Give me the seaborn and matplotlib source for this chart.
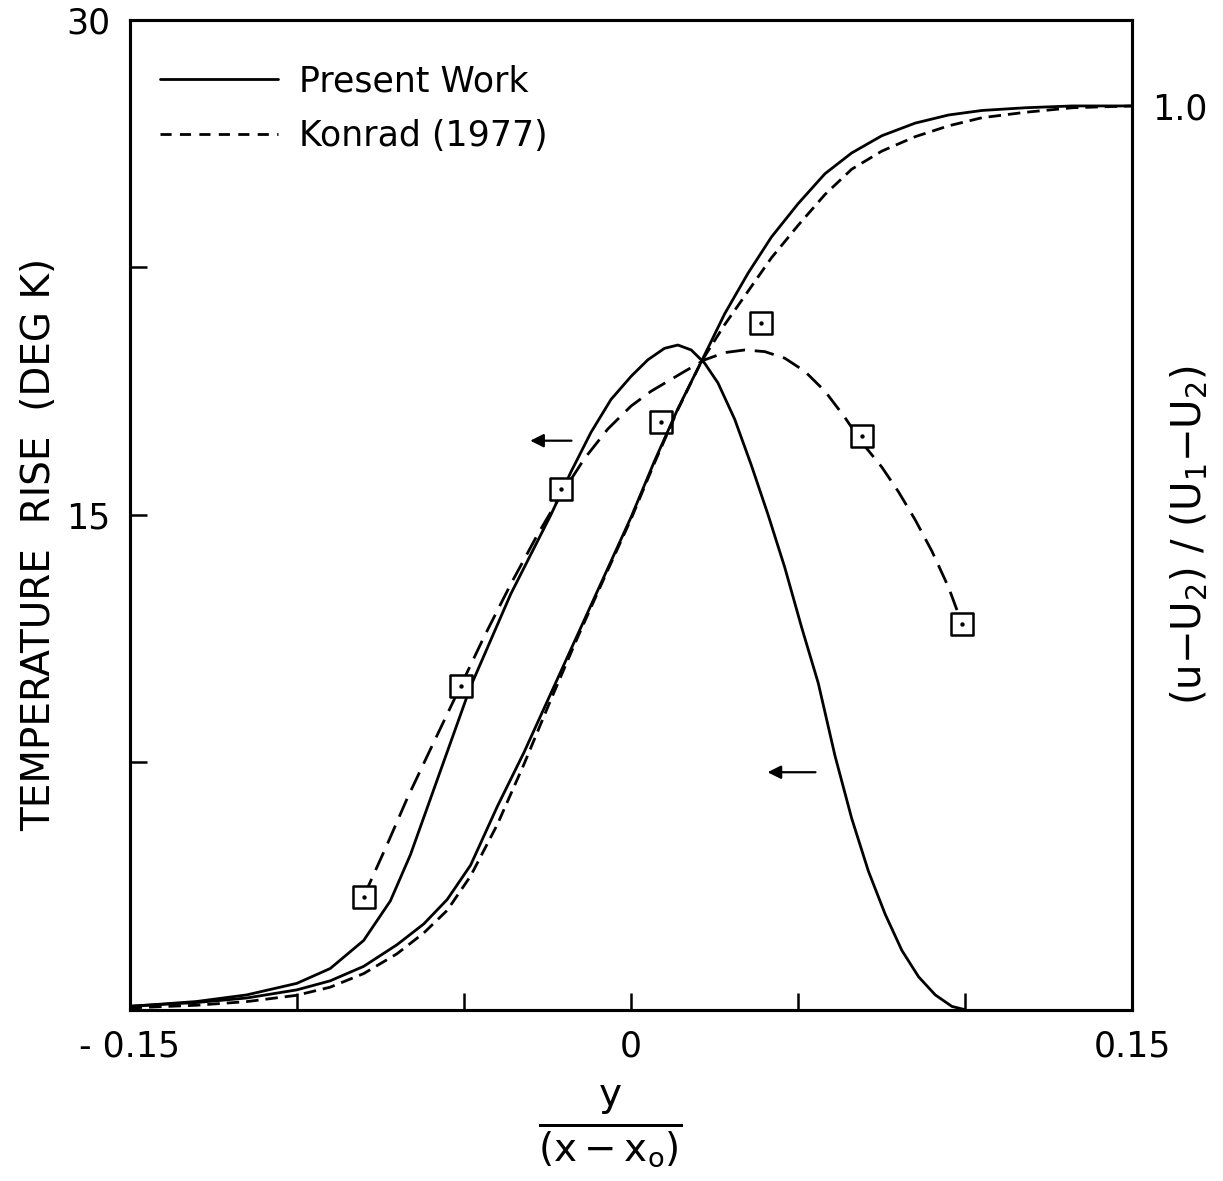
import matplotlib
matplotlib.use('Agg')
import matplotlib.pyplot as plt
from matplotlib.lines import Line2D
import pandas as pd
import seaborn as sns

# temperature rise (deg K), present work
x_temp_present = [-0.150, -0.130, -0.115, -0.100, -0.090, -0.080, -0.072, -0.066, -0.060, -0.054,
                  -0.048, -0.042, -0.036, -0.030, -0.024, -0.018, -0.012, -0.006, 0.000, 0.005,
                  0.010, 0.014, 0.018, 0.022, 0.026, 0.031, 0.036, 0.041, 0.046, 0.051,
                  0.056, 0.061, 0.066, 0.071, 0.076, 0.081, 0.086, 0.091, 0.096, 0.100]
temp_present = [0.10, 0.25, 0.45, 0.80, 1.25, 2.10, 3.30, 4.70, 6.40, 8.10,
                9.80, 11.20, 12.60, 13.80, 15.00, 16.30, 17.50, 18.50, 19.20, 19.70,
                20.05, 20.15, 20.00, 19.60, 19.00, 17.90, 16.50, 15.00, 13.40, 11.60,
                9.90, 7.70, 5.80, 4.20, 2.90, 1.80, 1.00, 0.45, 0.10, 0.00]

# temperature rise, Konrad (1977)
x_temp_konrad = [-0.080, -0.073, -0.067, -0.060, -0.051, -0.044, -0.036, -0.028, -0.021, -0.014,
                 -0.007, 0.000, 0.006, 0.011, 0.016, 0.022, 0.028, 0.034, 0.040, 0.046,
                 0.052, 0.058, 0.064, 0.069, 0.075, 0.080, 0.085, 0.090, 0.095, 0.099]
temp_konrad = [3.43, 5.00, 6.40, 7.90, 9.81, 11.30, 12.90, 14.40, 15.60, 16.70,
               17.60, 18.30, 18.75, 19.05, 19.35, 19.70, 19.92, 20.00, 19.95, 19.75,
               19.35, 18.75, 17.95, 17.20, 16.45, 15.70, 14.85, 13.90, 12.80, 11.70]

# velocity ratio (u-U2)/(U1-U2)
x_vel = [-0.150, -0.130, -0.115, -0.100, -0.090, -0.080, -0.070, -0.062, -0.055, -0.048,
         -0.040, -0.032, -0.024, -0.016, -0.008, 0.000, 0.007, 0.014, 0.021, 0.028,
         0.035, 0.042, 0.050, 0.058, 0.066, 0.075, 0.085, 0.095, 0.105, 0.118, 0.132, 0.150]
vel_present = [0.004, 0.008, 0.013, 0.022, 0.032, 0.048, 0.072, 0.095, 0.122, 0.160,
               0.225, 0.285, 0.350, 0.415, 0.480, 0.545, 0.607, 0.665, 0.717, 0.770,
               0.815, 0.855, 0.892, 0.925, 0.948, 0.967, 0.981, 0.990, 0.995, 0.998, 1.000, 1.000]
vel_konrad = [0.002, 0.005, 0.009, 0.016, 0.025, 0.040, 0.062, 0.085, 0.110, 0.148,
              0.205, 0.272, 0.343, 0.412, 0.478, 0.543, 0.605, 0.664, 0.717, 0.758,
              0.795, 0.832, 0.868, 0.902, 0.930, 0.950, 0.966, 0.978, 0.987, 0.993, 0.998, 1.000]

# measured temperature points (squares)
x_points = [-0.080, -0.051, -0.021, 0.009, 0.039, 0.069, 0.099]
temp_points = [3.43, 9.81, 15.79, 17.83, 20.83, 17.40, 11.69]

xticks = [-0.15, -0.10, -0.05, 0.0, 0.05, 0.10, 0.15]
xticklabels = ['- 0.15', '', '', '0', '', '', '0.15']
yticks = [0, 7.5, 15, 22.5, 30]
yticklabels = ['', '', '15', '', '30']

sns.set_style('ticks')
plt.rcParams['font.family'] = ['DejaVu Sans']
plt.rcParams['mathtext.fontset'] = 'dejavusans'
plt.rcParams['lines.scale_dashes'] = False
for key in ['text.color', 'axes.labelcolor', 'xtick.color', 'ytick.color', 'axes.edgecolor']:
    plt.rcParams[key] = 'black'

fig = plt.figure(figsize=(12.23, 11.81), dpi=100)
ax = fig.add_axes([0.106, 0.145, 0.820, 0.838])
ax2 = ax.twinx()

lw = 2.0
sns.lineplot(x=x_vel, y=vel_present, ax=ax2, color='black', lw=lw,
             sort=False, estimator=None, legend=False)
sns.lineplot(x=x_vel, y=vel_konrad, ax=ax2, color='black', lw=lw,
             sort=False, estimator=None, legend=False, linestyle=(0, (9, 5)))
sns.lineplot(x=x_temp_present, y=temp_present, ax=ax, color='black', lw=lw,
             sort=False, estimator=None, legend=False)
sns.lineplot(x=x_temp_konrad, y=temp_konrad, ax=ax, color='black', lw=lw,
             sort=False, estimator=None, legend=False, linestyle=(0, (14, 7)))

pts = pd.DataFrame({'x': x_points, 'T': temp_points})
sns.scatterplot(data=pts, x='x', y='T', ax=ax, marker='s', s=230, color='white',
                edgecolor='black', linewidth=1.8, zorder=4, legend=False)
sns.scatterplot(data=pts, x='x', y='T', ax=ax, marker='o', s=10, color='black',
                edgecolor='black', linewidth=0, zorder=5, legend=False)

# direction arrows
arrow = dict(arrowstyle='-|>', color='black', lw=1.6, mutation_scale=20)
ax.annotate('', xy=(-0.031, 17.25), xytext=(-0.017, 17.25), arrowprops=arrow)
ax.annotate('', xy=(0.040, 7.2), xytext=(0.056, 7.2), arrowprops=arrow)

ax.set_xlim(-0.15, 0.15)
ax.set_ylim(0, 30)
ax2.set_ylim(0, 1.095)

ax.set_xticks(xticks)
ax.set_xticklabels(xticklabels)
ax.set_yticks(yticks)
ax.set_yticklabels(yticklabels)
ax.tick_params(direction='in', length=12, width=1.8, labelsize=25, pad=14)
ax2.set_yticks([1.0])
ax2.set_yticklabels(['1.0'])
ax2.tick_params(axis='y', length=0, labelsize=25, pad=14)

for a in (ax, ax2):
    for sp in a.spines.values():
        sp.set_linewidth(2.2)
        sp.set_visible(True)

ax.set_xlabel(r'$\frac{\mathrm{y}}{\mathrm{(x-x_o)}}$', fontsize=40)
ax.xaxis.set_label_coords(0.479, -0.118)
ax.xaxis.label.set_va('center')
ax.set_ylabel('TEMPERATURE  RISE  (DEG K)', fontsize=28)
ax.yaxis.set_label_coords(-0.09, 0.47)
ax.yaxis.label.set_va('center')
ax2.set_ylabel(r'(u$-$U$_2$) / (U$_1$$-$U$_2$)', fontsize=29, rotation=90)
ax2.yaxis.set_label_coords(1.057, 0.48)
ax2.yaxis.label.set_va('center')

handles = [Line2D([0], [0], color='black', lw=lw),
           Line2D([0], [0], color='black', lw=lw, linestyle=(0, (8, 6)))]
ax.legend(handles, ['Present Work', 'Konrad (1977)'], loc='upper left',
          bbox_to_anchor=(0.03, 0.955), frameon=False, fontsize=25,
          handlelength=3.4, handletextpad=0.6, labelspacing=0.6,
          borderaxespad=0, borderpad=0)

fig.savefig('out.png', dpi=100)
